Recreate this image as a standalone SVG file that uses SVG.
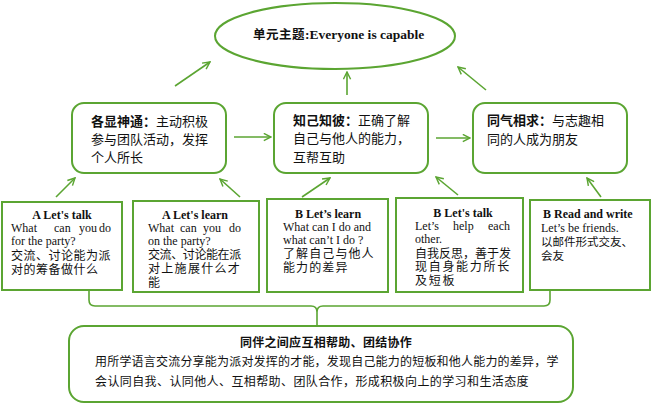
<svg xmlns="http://www.w3.org/2000/svg" width="653" height="404" viewBox="0 0 653 404">
<defs>
<marker id="ah" viewBox="0 0 10 10" refX="9" refY="5" markerWidth="9" markerHeight="9" markerUnits="userSpaceOnUse" orient="auto">
<path d="M1,1 L9,5 L1,9" fill="none" stroke="#5BA532" stroke-width="1.6"/>
</marker>
<style>
.g{fill:#fff;stroke:#5BA532;stroke-width:2}
.c{fill:none;stroke:#5BA532;stroke-width:1.6}
.t{font-family:"Liberation Serif","Noto Sans CJK SC",serif;font-size:12px;fill:#111}
.h{font-family:"Liberation Serif","Noto Sans CJK SC",serif;font-size:12px;font-weight:bold;fill:#111}
.z{font-family:"Liberation Serif","Noto Sans CJK SC",serif;font-size:12px;fill:#111}
.u{font-family:"Liberation Serif","Noto Sans CJK SC",serif;font-size:13px;fill:#111}
.b{font-weight:bold}
</style>
</defs>
<rect width="653" height="404" fill="#fff"/>

<g id="connectors">
<line class="c" x1="175" y1="86" x2="210" y2="62" marker-end="url(#ah)"/>
<line class="c" x1="347" y1="95" x2="347" y2="72" marker-end="url(#ah)"/>
<line class="c" x1="486" y1="90" x2="458" y2="67" marker-end="url(#ah)"/>
<line class="c" x1="234" y1="137" x2="271" y2="137" marker-end="url(#ah)"/>
<line class="c" x1="436" y1="138" x2="470" y2="138" marker-end="url(#ah)"/>
<line class="c" x1="56" y1="197" x2="75" y2="178" marker-end="url(#ah)"/>
<line class="c" x1="240" y1="197" x2="220" y2="179" marker-end="url(#ah)"/>
<line class="c" x1="302" y1="197" x2="330" y2="178" marker-end="url(#ah)"/>
<line class="c" x1="458" y1="195" x2="436" y2="177" marker-end="url(#ah)"/>
<line class="c" x1="601" y1="197" x2="587" y2="178" marker-end="url(#ah)"/>
<path class="c" d="M89,291 L89,300 Q89,306 95,306 L311,306 Q317,306 317,312 L317,326 M317,312 Q317,306 323,306 L544,306 Q550,306 550,300 L550,291"/>
</g>

<g id="theme">
<ellipse class="g" cx="335" cy="36" rx="120" ry="33"/>
<text class="h" y="39" style="font-size:13.5px"><tspan x="253" style="font-size:12.5px" letter-spacing="0.5">单元主题</tspan><tspan>:Everyone is capable</tspan></text>
</g>

<g id="n1">
<rect class="g" x="72" y="103" width="154" height="70" rx="12"/>
<text class="u"><tspan x="91" y="126"><tspan class="b">各显神通：</tspan>主动积极</tspan><tspan x="91" y="144">参与团队活动，发挥</tspan><tspan x="91" y="162">个人所长</tspan></text>
</g>

<g id="n2">
<rect class="g" x="274" y="103" width="154" height="70" rx="12"/>
<text class="u"><tspan x="293" y="125"><tspan class="b">知己知彼：</tspan>正确了解</tspan><tspan x="293" y="143">自己与他人的能力，</tspan><tspan x="293" y="162">互帮互助</tspan></text>
</g>

<g id="n3">
<rect class="g" x="473" y="103" width="154" height="70" rx="12"/>
<text class="u"><tspan x="487" y="125"><tspan class="b">同气相求：</tspan>与志趣相</tspan><tspan x="487" y="144">同的人成为朋友</tspan></text>
</g>

<g id="a1">
<rect class="g" x="2" y="202" width="120" height="88"/>
<text class="t"><tspan class="h" x="62" y="219" text-anchor="middle">A Let's talk</tspan><tspan x="11" y="232">What</tspan><tspan x="54" y="232">can</tspan><tspan x="79" y="232">you</tspan><tspan x="99" y="232">do</tspan><tspan x="11" y="245">for the party?</tspan><tspan x="11" y="260" letter-spacing="0.5">交流、讨论能为派</tspan><tspan x="11" y="274" letter-spacing="0.5">对的筹备做什么</tspan></text>
</g>

<g id="a2">
<rect class="g" x="133" y="201" width="126" height="91"/>
<text class="t"><tspan class="h" x="195" y="219" text-anchor="middle">A Let's learn</tspan><tspan x="148" y="232">What</tspan><tspan x="180" y="232">can</tspan><tspan x="203" y="232">you</tspan><tspan x="229" y="232">do</tspan><tspan x="148" y="245">on the party?</tspan><tspan x="148" y="259" letter-spacing="-0.4">交流、讨论能在派</tspan><tspan x="148" y="273" letter-spacing="1.3">对上施展什么才</tspan><tspan x="148" y="287">能</tspan></text>
</g>

<g id="a3">
<rect class="g" x="267" y="199" width="121" height="93"/>
<text class="t"><tspan class="h" x="328" y="218" text-anchor="middle">B Let’s learn</tspan><tspan x="283" y="231">What can I do and</tspan><tspan x="283" y="244">what can’t I do ?</tspan><tspan x="283" y="258" letter-spacing="1.1">了解自己与他人</tspan><tspan x="283" y="272" letter-spacing="1.1">能力的差异</tspan></text>
</g>

<g id="a4">
<rect class="g" x="396" y="198" width="127" height="94"/>
<text class="t"><tspan class="h" x="463" y="217" text-anchor="middle">B Let's talk</tspan><tspan x="415" y="230">Let’s</tspan><tspan x="453" y="230">help</tspan><tspan x="488" y="230">each</tspan><tspan x="415" y="243">other.</tspan><tspan x="415" y="258">自我反思，善于发</tspan><tspan x="415" y="271" letter-spacing="1.7">现自身能力所长</tspan><tspan x="415" y="285" letter-spacing="1.7">及短板</tspan></text>
</g>

<g id="a5">
<rect class="g" x="530" y="200" width="120" height="90"/>
<text class="t"><tspan class="h" x="543" y="218">B Read and write</tspan><tspan x="541" y="232">Let’s be friends.</tspan><tspan style="font-size:11.5px" x="541" y="246">以邮件形式交友、</tspan><tspan style="font-size:11.5px" x="541" y="260">会友</tspan></text>
</g>

<g id="summary">
<rect class="g" x="69" y="326" width="504" height="76" rx="15"/>
<text class="z"><tspan class="b" x="326" y="347" text-anchor="middle" letter-spacing="0.3">同伴之间应互相帮助、团结协作</tspan><tspan x="95" y="366" letter-spacing="0.2">用所学语言交流分享能为派对发挥的才能，发现自己能力的短板和他人能力的差异，学</tspan><tspan x="95" y="386" letter-spacing="0.4">会认同自我、认同他人、互相帮助、团队合作，形成积极向上的学习和生活态度</tspan></text>
</g>
</svg>
